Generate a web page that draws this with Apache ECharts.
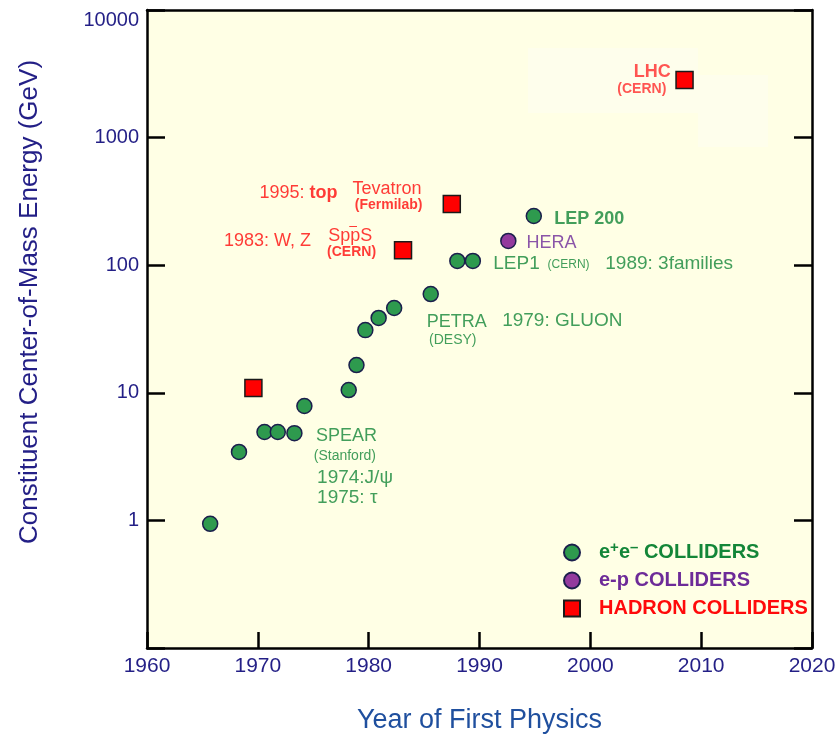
<!DOCTYPE html>
<html>
<head>
<meta charset="utf-8">
<script src="https://cdn.jsdelivr.net/npm/echarts@6/dist/echarts.min.js"></script>
<style>
  html, body { margin: 0; padding: 0; background: #fff; }
  #chart { width: 835px; height: 737px; }
</style>
</head>
<body>
<div id="chart"></div>
<script>
// e+e- colliders
var eeYear = [1965.7, 1968.3, 1970.6, 1971.8, 1973.3, 1974.2, 1978.2, 1978.9, 1979.7, 1980.9, 1982.3, 1985.6, 1988.0, 1989.4, 1994.9]
var eeGeV = [0.94, 3.44, 4.93, 4.93, 4.83, 7.88, 10.5, 16.5, 31.0, 38.6, 46.2, 59.4, 108, 108, 243]
// e-p colliders
var epYear = [1992.6]
var epGeV = [155]
// hadron colliders
var hadYear = [1969.6, 1983.1, 1987.5, 2008.5]
var hadGeV = [10.9, 131, 302, 2830]

var xTicks = [1960, 1970, 1980, 1990, 2000, 2010, 2020]
var yTicks = [0.1, 1, 10, 100, 1000, 10000]

// annotations: [text, year, GeV, kind]
var redNotes = [
    ['1995: {b|top}', 1970.1, 368, 'main'],
    ['Tevatron', 1978.5, 396, 'main'],
    ['(Fermilab)', 1978.7, 297, 'subB'],
    ['1983: W, Z', 1966.9, 154, 'main'],
    ['SppS', 1976.3, 169, 'main'],
    ['–', 1978.2, 203, 'tiny'],
    ['(CERN)', 1976.2, 127, 'subB']
]
var lhcNotes = [
    ['LHC', 2007.3, 3266, 'bold'],
    ['(CERN)', 2006.9, 2404, 'subB']
]
var greenNotes = [
    ['PETRA', 1985.2, 35.7, 'main'],
    ['(DESY)', 1985.4, 25.7, 'sub'],
    ['1979: GLUON', 1992.0, 36.4, 'big'],
    ['LEP1', 1991.2, 103.5, 'big'],
    ['(CERN)', 1996.1, 101.6, 'small'],
    ['1989: 3families', 2001.3, 103.5, 'big'],
    ['LEP 200', 1996.7, 230, 'bold'],
    ['SPEAR', 1975.2, 4.59, 'main'],
    ['(Stanford)', 1975.0, 3.2, 'sub'],
    ['1974:J/\u03c8', 1975.3, 2.15, 'big'],
    ['1975: \u03c4', 1975.3, 1.5, 'big']
]
var purpleNotes = [
    ['HERA', 1994.2, 149, 'main']
]

var FONT = '"Liberation Sans", Arial, Helvetica, sans-serif'
var NAVY = '#231f86'
var GREEN = '#2e9a4e'
var GREEN_TXT = '#138638'
var PURPLE = '#933a9e'
var PURPLE_TXT = '#6d2b98'
var RED = '#ff0a0a'

var kinds = {
    main: { fontSize: 18 },
    big: { fontSize: 19 },
    bold: { fontSize: 18, fontWeight: 'bold' },
    sub: { fontSize: 14 },
    subB: { fontSize: 14, fontWeight: 'bold' },
    small: { fontSize: 12 },
    tiny: { fontSize: 14 }
}

var zip = function (xs, ys) {
    return xs.map((x, i) => [x, ys[i]])
}

var noteSeries = function (notes, color, side) {
    return {
        type: 'scatter',
        silent: true,
        symbolSize: 1,
        itemStyle: { color: 'rgba(0,0,0,0)' },
        z: 5,
        data: notes.map(n => ({
            value: [n[1], n[2]],
            label: Object.assign({ formatter: n[0] }, kinds[n[3]])
        })),
        label: {
            show: true,
            position: side || 'right',
            distance: 0,
            color: color,
            fontFamily: FONT,
            verticalAlign: 'middle',
            rich: {
                b: { fontWeight: 'bold', fontSize: 18, fontFamily: FONT, color: color }
            }
        }
    }
}

var chart = echarts.init(document.getElementById('chart'))
chart.setOption({
    backgroundColor: '#ffffff',
    animation: false,
    grid: {
        left: 147, right: 23, top: 10, bottom: 89,
        outerBoundsMode: 'none',
        show: true, backgroundColor: '#ffffe5', borderWidth: 0
    },
    graphic: [
        // faint pasted patches around the LHC point
        { type: 'rect', shape: { x: 528, y: 48, width: 170, height: 65 }, style: { fill: '#fefeec' }, z: 1 },
        { type: 'rect', shape: { x: 698, y: 75, width: 70, height: 72 }, style: { fill: '#fefeec' }, z: 1 }
    ],
    legend: {
        orient: 'vertical',
        left: 558, top: 535,
        itemWidth: 16, itemHeight: 16,
        itemGap: 8,
        selectedMode: false,
        textStyle: { fontFamily: FONT, fontSize: 20, fontWeight: 'bold', padding: [0, 0, 0, 14],
            rich: {
                t: { fontFamily: FONT, fontSize: 20, fontWeight: 'bold' },
                sup: { fontFamily: FONT, fontSize: 15, fontWeight: 'bold', verticalAlign: 'top', padding: [0, 0, 10, 0] }
            }
        },
        formatter: function (name) {
            if (name === 'ee') return '{t|e}{sup|+}{t|e}{sup|\u2013} {t|COLLIDERS}'
            return name
        },
        data: [
            { name: 'ee', textStyle: { color: GREEN_TXT } },
            { name: 'e-p COLLIDERS', textStyle: { color: PURPLE_TXT } },
            { name: 'HADRON COLLIDERS', icon: 'rect', textStyle: { color: RED } }
        ]
    },
    xAxis: [{
        type: 'value', min: 1960, max: 2020, interval: 10,
        axisLine: { lineStyle: { color: '#000', width: 2.5 } },
        axisTick: { inside: true, length: 16, lineStyle: { color: '#000', width: 2.5 } },
        splitLine: { show: false },
        axisLabel: { color: NAVY, fontFamily: FONT, fontSize: 21, margin: 8, formatter: v => String(v) },
        name: 'Year of First Physics',
        nameLocation: 'middle', nameGap: 59,
        nameTextStyle: { color: '#1f4f9e', fontFamily: FONT, fontSize: 27 }
    }, {
        type: 'value', min: 1960, max: 2020, position: 'top',
        axisLine: { lineStyle: { color: '#000', width: 2.5 } },
        axisTick: { show: false }, axisLabel: { show: false }, splitLine: { show: false }
    }],
    yAxis: [{
        type: 'log', logBase: 10, min: 0.1, max: 10000,
        axisLine: { show: true, lineStyle: { color: '#000', width: 2.5 } },
        axisTick: { inside: true, length: 18, lineStyle: { color: '#000', width: 2.5 } },
        splitLine: { show: false },
        axisLabel: {
            color: NAVY, fontFamily: FONT, fontSize: 20, margin: 8,
            verticalAlignMaxLabel: 'top',
            formatter: v => (v < 1 ? '' : String(Math.round(v)))
        },
        name: 'Constituent Center-of-Mass Energy (GeV)',
        nameLocation: 'middle', nameGap: 104,
        nameTextStyle: { color: NAVY, fontFamily: FONT, fontSize: 26, padding: [0, 0, 0, 54] }
    }, {
        type: 'log', logBase: 10, min: 0.1, max: 10000, position: 'right',
        axisLine: { show: true, lineStyle: { color: '#000', width: 2.5 } },
        axisTick: { inside: true, length: 18, lineStyle: { color: '#000', width: 2.5 } },
        axisLabel: { show: false }, splitLine: { show: false }
    }],
    series: [{
        name: 'ee', type: 'scatter', z: 10,
        symbol: 'circle', symbolSize: 15,
        itemStyle: { color: GREEN, borderColor: '#1b1f4c', borderWidth: 1.5, opacity: 1 },
        data: zip(eeYear, eeGeV)
    }, {
        name: 'e-p COLLIDERS', type: 'scatter', z: 10,
        symbol: 'circle', symbolSize: 15,
        itemStyle: { color: PURPLE, borderColor: '#1b1f4c', borderWidth: 1.5, opacity: 1 },
        data: zip(epYear, epGeV)
    }, {
        name: 'HADRON COLLIDERS', type: 'scatter', z: 10,
        symbol: 'rect', symbolSize: 17,
        itemStyle: { color: '#ff0000', borderColor: '#1a1a1a', borderWidth: 1.5, opacity: 1 },
        data: zip(hadYear, hadGeV)
    },
    noteSeries(redNotes, RED),
    noteSeries(lhcNotes, '#ff2a2a', 'left'),
    noteSeries(greenNotes, GREEN_TXT),
    noteSeries(purpleNotes, PURPLE_TXT)
    ]
})
</script>
</body>
</html>
